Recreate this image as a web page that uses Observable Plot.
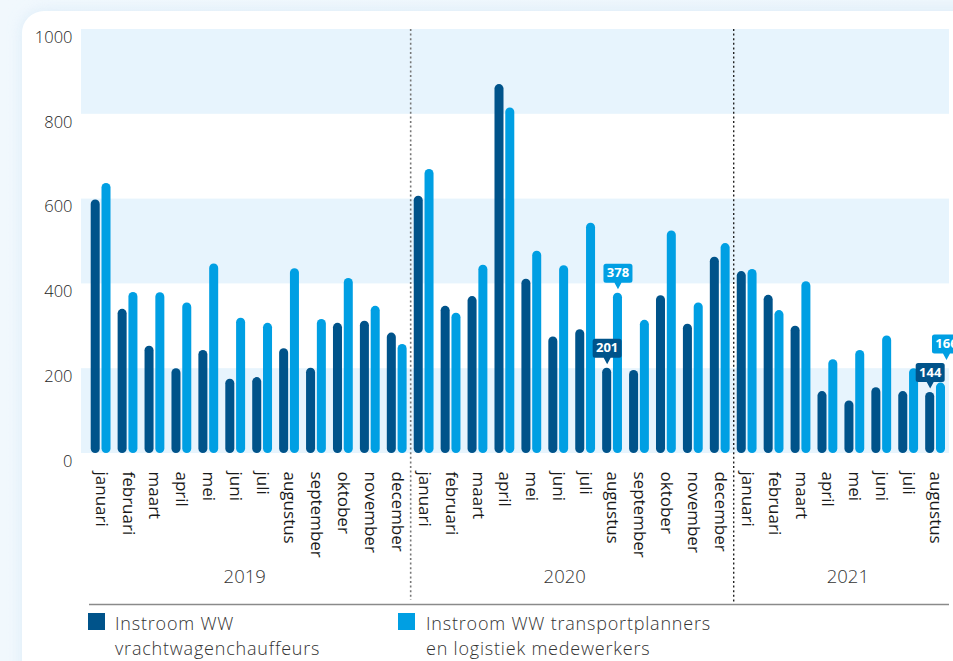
<!DOCTYPE html>
<html>
<head>
<meta charset="utf-8">
<script src="https://cdn.jsdelivr.net/npm/d3@7"></script>
<script src="https://cdn.jsdelivr.net/npm/@observablehq/plot@0.6"></script>
<style>
  html, body { margin: 0; padding: 0; width: 953px; height: 661px; overflow: hidden; }
  body { background: linear-gradient(90deg, #f1f8fd 0%, #eef6fc 100%); font-family: "Open Sans", sans-serif; }
  #card { position: absolute; left: 22px; top: 11px; width: 1000px; height: 690px; background: #fff; border-radius: 22px; box-shadow: 0 0 14px rgba(205, 228, 246, 0.6); overflow: hidden; }
  #chart { position: absolute; left: 0; top: 0; }
  .item { position: absolute; top: 600px; }
  .swatch { position: absolute; top: 1.7px; width: 17px; height: 17px; }
  .label { position: absolute; white-space: nowrap; font-size: 18px; line-height: 24.5px; font-weight: 300; letter-spacing: 0.8px; color: #333; }
</style>
</head>
<body>
<div id="card">
  <div id="chart"></div>
  <div class="item" style="left:66px">
    <div class="swatch" style="background:#00538a;left:0"></div>
    <div class="label" style="left:27px">Instroom WW<br>vrachtwagenchauffeurs</div>
  </div>
  <div class="item" style="left:376px">
    <div class="swatch" style="background:#009fe3;left:0"></div>
    <div class="label" style="left:28px">Instroom WW transportplanners<br>en logistiek medewerkers</div>
  </div>
</div>
<script>
// Month names and years shown on the axis
const monthNames = ["januari", "februari", "maart", "april", "mei", "juni", "juli",
  "augustus", "september", "oktober", "november", "december"];
const years = ["2019", "2020", "2021"];

// Monthly inflow into unemployment benefits (WW): truck drivers
const drivers2019 = [598, 340, 253, 200, 243, 175, 179, 247, 201, 307, 312, 284];
const drivers2020 = [607, 347, 370, 870, 411, 275, 292, 201, 196, 372, 305, 463];
const drivers2021 = [429, 373, 300, 146, 124, 155, 146, 144];

// Monthly inflow: transport planners and logistics staff
const planners2019 = [637, 380, 379, 355, 447, 319, 307, 436, 316, 413, 347, 257];
const planners2020 = [670, 331, 444, 815, 477, 443, 543, 378, 314, 525, 355, 495];
const planners2021 = [434, 337, 405, 221, 243, 277, 200, 166];

// Bars that carry a value callout
const calloutKeys = [
  {key: "2020-08", series: "drivers"},
  {key: "2020-08", series: "planners"},
  {key: "2021-08", series: "drivers"},
  {key: "2021-08", series: "planners"}
];

// Alternating shaded value bands
const shadedBands = [[0, 200], [400, 600], [800, 1000]];
const yTicks = [0, 200, 400, 600, 800, 1000];

const driversByYear = [drivers2019, drivers2020, drivers2021];
const plannersByYear = [planners2019, planners2020, planners2021];

const rows = [];
years.forEach((year, yi) => {
  driversByYear[yi].forEach((v, mi) => {
    rows.push({
      key: `${year}-${String(mi + 1).padStart(2, "0")}`,
      drivers: v,
      planners: plannersByYear[yi][mi]
    });
  });
});
const keys = rows.map(d => d.key);
const callouts = calloutKeys.map(c => {
  const row = rows.find(r => r.key === c.key);
  return {key: c.key, series: c.series, value: row[c.series]};
});

const dark = "#00538a";
const light = "#009fe3";

// Speech-bubble shape drawn above a point: rounded box plus a small pointer
const bubble = {
  draw(ctx) {
    const w = 14.5, top = -29.5, bot = -10.5, r = 2.5;
    ctx.moveTo(-w + r, top);
    ctx.lineTo(w - r, top);
    ctx.arcTo(w, top, w, top + r, r);
    ctx.lineTo(w, bot - r);
    ctx.arcTo(w, bot, w - r, bot, r);
    ctx.lineTo(3.5, bot);
    ctx.lineTo(0, -4);
    ctx.lineTo(-3.5, bot);
    ctx.lineTo(-w + r, bot);
    ctx.arcTo(-w, bot, -w, bot - r, r);
    ctx.lineTo(-w, top + r);
    ctx.arcTo(-w, top, -w + r, top, r);
    ctx.closePath();
  }
};

function calloutMarks(data, color, dx, lift = 0) {
  return [
    Plot.dot(data, {x: "key", y: "value", symbol: bubble, r: 10, fill: color, stroke: null, dx, dy: -lift}),
    Plot.text(data, {x: "key", y: "value", text: d => String(d.value), dx, dy: -20 - lift,
      fill: "white", fontWeight: 700, fontSize: 13})
  ];
}

const half = 5.4; // offset from group centre to each bar's centre
const edgeKey = keys[keys.length - 1];

const chart = Plot.plot({
  width: 958,
  height: 600,
  marginLeft: 59,
  marginRight: 31,
  marginTop: 18,
  marginBottom: 158,
  style: {fontFamily: "'Open Sans', sans-serif", background: "transparent", overflow: "visible"},
  x: {domain: keys, range: [61.6, 930.1], padding: 0.264, round: false},
  y: {domain: [0, 1000], axis: null},
  marks: [
    Plot.rect(shadedBands, {y1: d => d[0], y2: d => d[1], fill: "#e7f4fd"}),
    Plot.axisY({ticks: yTicks, tickSize: 0, tickPadding: 9, dy: 8, fontSize: 16.5, fontWeight: 300,
      fill: "#1e1e1e", tickFormat: d => String(d), label: null}),
    Plot.axisX({tickRotate: 90, tickSize: 0, tickPadding: 18, fontSize: 17, fontWeight: 500, fill: "#1a1a1a",
      tickFormat: k => monthNames[+k.slice(5) - 1], label: null}),
    Plot.barY(rows, {x: "key", y: "drivers", fill: dark, insetRight: 10.8, rx: 4.5}),
    Plot.barY(rows, {x: "key", y: "planners", fill: light, insetLeft: 10.8, rx: 4.5}),
    // year dividers
    Plot.ruleX(["2020-01"], {dx: -13.46, insetBottom: -147, stroke: "#777", strokeWidth: 1.6, strokeDasharray: "2,2.6"}),
    Plot.ruleX(["2021-01"], {dx: -13.46, insetBottom: -150, stroke: "#222", strokeWidth: 1.4, strokeDasharray: "2,2.6"}),
    // baseline under the year labels
    Plot.ruleY([0], {dy: 151, insetLeft: 8, stroke: "#8a8a8a", strokeWidth: 1.5}),
    // year labels
    Plot.text([{key: "2019-06", year: years[0]}], {x: "key", text: "year", frameAnchor: "bottom", dy: 129, dx: 9, fontSize: 18.5, fontWeight: 300, fill: "#333"}),
    Plot.text([{key: "2020-06", year: years[1]}], {x: "key", text: "year", frameAnchor: "bottom", dy: 129, dx: 6, fontSize: 18.5, fontWeight: 300, fill: "#333"}),
    Plot.text([{key: "2021-05", year: years[2]}], {x: "key", text: "year", frameAnchor: "bottom", dy: 129, dx: -7, fontSize: 18.5, fontWeight: 300, fill: "#333"}),
    // value callouts
    ...calloutMarks(callouts.filter(d => d.series === "drivers"), dark, -half),
    ...calloutMarks(callouts.filter(d => d.series === "planners" && d.key !== edgeKey), light, half),
    ...calloutMarks(callouts.filter(d => d.series === "planners" && d.key === edgeKey), light, half + 5.5, 19)
  ]
});
document.getElementById("chart").append(chart);
</script>
</body>
</html>
